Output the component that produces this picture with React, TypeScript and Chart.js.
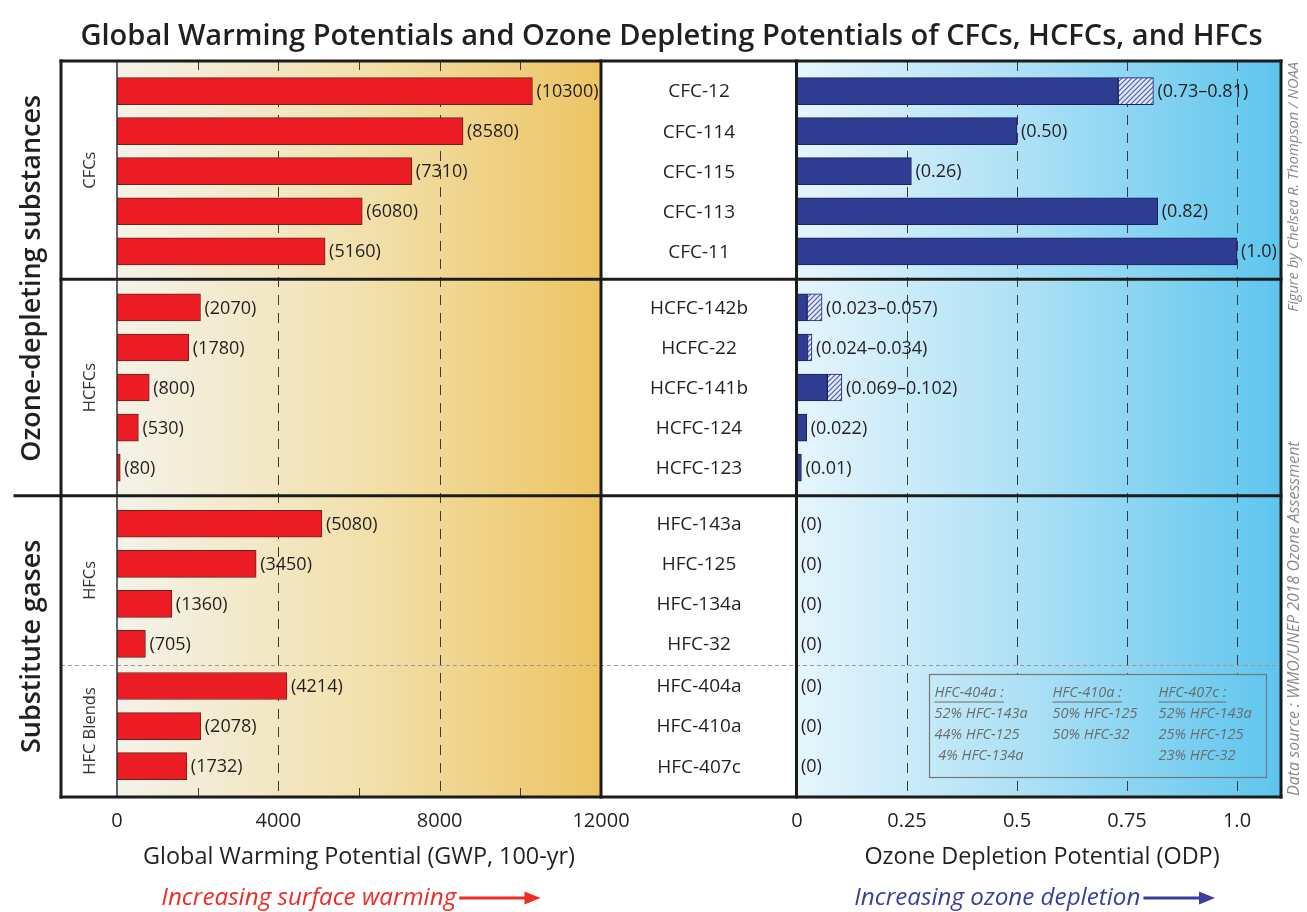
import React, { useEffect, useRef } from 'react';
import { Chart, registerables } from 'chart.js';

Chart.register(...registerables);

const FONT = '"Open Sans", "Noto Sans", "DejaVu Sans", sans-serif';

// ---------- data ----------
const titleText = 'Global Warming Potentials and Ozone Depleting Potentials of CFCs, HCFCs, and HFCs';
const sections = ['Ozone-depleting substances', 'Substitute gases'];
const groups = ['CFCs', 'HCFCs', 'HFCs', 'HFC Blends'];
const groupSection = [0, 0, 1, 1];
const groupBreak = ['solid', 'solid', 'dashed']; // break between group g and g+1
const compounds = [
  'CFC-12', 'CFC-114', 'CFC-115', 'CFC-113', 'CFC-11',
  'HCFC-142b', 'HCFC-22', 'HCFC-141b', 'HCFC-124', 'HCFC-123',
  'HFC-143a', 'HFC-125', 'HFC-134a', 'HFC-32',
  'HFC-404a', 'HFC-410a', 'HFC-407c',
];
const compoundGroup = [0, 0, 0, 0, 0, 1, 1, 1, 1, 1, 2, 2, 2, 2, 3, 3, 3];
const gwpValues = [10300, 8580, 7310, 6080, 5160, 2070, 1780, 800, 530, 80, 5080, 3450, 1360, 705, 4214, 2078, 1732];
const odpValues = [0.73, 0.5, 0.26, 0.82, 1.0, 0.023, 0.024, 0.069, 0.022, 0.01, 0, 0, 0, 0, 0, 0, 0];
const odpUpper: (number | null)[] = [0.81, null, null, null, null, 0.057, 0.034, 0.102, null, null, null, null, null, null, null, null, null];
const odpLabels = ['0.73–0.81', '0.50', '0.26', '0.82', '1.0', '0.023–0.057', '0.024–0.034', '0.069–0.102', '0.022', '0.01', '0', '0', '0', '0', '0', '0', '0'];
const gwpTicks = [0, 4000, 8000, 12000];
const gwpMinorTicks = [2000, 6000, 10000];
const odpTicks = [0, 0.25, 0.5, 0.75, 1.0];
const odpTickLabels = ['0', '0.25', '0.5', '0.75', '1.0'];
const gwpAxisTitle = 'Global Warming Potential (GWP, 100-yr)';
const odpAxisTitle = 'Ozone Depletion Potential (ODP)';
const gwpArrowText = 'Increasing surface warming';
const odpArrowText = 'Increasing ozone depletion';
const creditTop = 'Figure by Chelsea R. Thompson / NOAA';
const creditBottom = 'Data source : WMO/UNEP 2018 Ozone Assessment';
const blendNames = ['HFC-404a :', 'HFC-410a :', 'HFC-407c :'];
const blendParts = [
  ['52% HFC-143a', '44% HFC-125', ' 4% HFC-134a'],
  ['50% HFC-125', '50% HFC-32'],
  ['52% HFC-143a', '25% HFC-125', '23% HFC-32'],
];

// ---------- style ----------
const C = {
  text: '#231f20',
  red: '#ec1c24',
  redEdge: '#6a231e',
  blue: '#2e3d92',
  blueEdge: '#1b2161',
  frame: '#1c1c1c',
  grid: '#3a3a3a',
  legend: '#6c6c6c',
  credit: '#8a8a8a',
  redText: '#ee2b24',
  blueText: '#3a3f9c',
};
const gwpGradient = ['#f4f2e9', '#f2e1ae', '#edc462'];
const odpGradient = ['#e6f5fc', '#a9dff5', '#5ec5ee'];

// ---------- row layout (category positions with group gaps) ----------
const TOP_PAD = 0.75;
const BOTTOM_PAD = 0.77;
const SOLID_GAP = 1.4;
const DASHED_GAP = 1.05;
const rowPos: number[] = [];
{
  let p = TOP_PAD;
  compounds.forEach((_, i) => {
    if (i > 0) {
      const g0 = compoundGroup[i - 1];
      const g1 = compoundGroup[i];
      if (g0 === g1) p += 1;
      else p += groupBreak[g0] === 'solid' ? SOLID_GAP : DASHED_GAP;
    }
    rowPos.push(p);
  });
}
const Y_MAX = rowPos[rowPos.length - 1] + BOTTOM_PAD;
const breakPos = groups.slice(0, -1).map((_, g) => {
  const last = compoundGroup.lastIndexOf(g);
  const first = compoundGroup.indexOf(g + 1);
  return (rowPos[last] + rowPos[first]) / 2;
});
const groupTop = (g: number) => (g === 0 ? 0 : breakPos[g - 1]);
const groupBottom = (g: number) => (g === groups.length - 1 ? Y_MAX : breakPos[g]);

const LABEL_COL_LEFT = 61;
const SECTION_LINE_LEFT = 15;

function fitFont(ctx: CanvasRenderingContext2D, text: string, style: string, weight: string, target: number) {
  ctx.font = `${style} ${weight} 100px ${FONT}`;
  const w = ctx.measureText(text).width;
  return (100 * target) / w;
}

function vText(ctx: CanvasRenderingContext2D, text: string, x: number, y: number, align: CanvasTextAlign = 'center') {
  ctx.save();
  ctx.translate(x, y);
  ctx.rotate(-Math.PI / 2);
  ctx.textAlign = align;
  ctx.textBaseline = 'middle';
  ctx.fillText(text, 0, 0);
  ctx.restore();
}

function hLine(ctx: CanvasRenderingContext2D, x0: number, x1: number, y: number) {
  ctx.beginPath();
  ctx.moveTo(x0, y);
  ctx.lineTo(x1, y);
  ctx.stroke();
}
function vLine(ctx: CanvasRenderingContext2D, x: number, y0: number, y1: number) {
  ctx.beginPath();
  ctx.moveTo(x, y0);
  ctx.lineTo(x, y1);
  ctx.stroke();
}

function arrow(ctx: CanvasRenderingContext2D, x0: number, x1: number, y: number, color: string) {
  ctx.save();
  ctx.strokeStyle = color;
  ctx.fillStyle = color;
  ctx.lineWidth = 3;
  ctx.beginPath();
  ctx.moveTo(x0, y);
  ctx.lineTo(x1 - 10, y);
  ctx.stroke();
  ctx.beginPath();
  ctx.moveTo(x1, y);
  ctx.lineTo(x1 - 16, y - 6.5);
  ctx.lineTo(x1 - 16, y + 6.5);
  ctx.closePath();
  ctx.fill();
  ctx.restore();
}

function panelGradient(ctx: CanvasRenderingContext2D, sc: any, stops: string[]) {
  const g = ctx.createLinearGradient(sc.left, 0, sc.right, 0);
  stops.forEach((c, i) => g.addColorStop(i / (stops.length - 1), c));
  return g;
}

const decorPlugin = {
  id: 'decor',
  beforeDraw(chart: any) {
    const { ctx, chartArea: a, scales } = chart;
    const xg = scales.xg;
    const xo = scales.xo;
    ctx.save();
    ctx.fillStyle = '#ffffff';
    ctx.fillRect(0, 0, chart.width, chart.height);
    ctx.fillStyle = panelGradient(ctx, xg, gwpGradient);
    ctx.fillRect(xg.left, a.top, xg.right - xg.left, a.bottom - a.top);
    ctx.fillStyle = panelGradient(ctx, xo, odpGradient);
    ctx.fillRect(xo.left, a.top, xo.right - xo.left, a.bottom - a.top);

    ctx.strokeStyle = C.grid;
    ctx.lineWidth = 1;
    ctx.setLineDash([10, 8]);
    const dashed = (sc: any, ticks: number[]) => {
      ticks.forEach((v) => {
        const px = Math.round(sc.getPixelForValue(v)) + 0.5;
        if (px <= sc.left + 4 || px >= sc.right - 4) return;
        vLine(ctx, px, a.top, a.bottom);
      });
    };
    dashed(xg, gwpTicks);
    dashed(xo, odpTicks);
    ctx.setLineDash([]);
    gwpMinorTicks.forEach((v) => {
      const px = Math.round(xg.getPixelForValue(v)) + 0.5;
      vLine(ctx, px, a.top, a.top + 9);
      vLine(ctx, px, a.bottom - 9, a.bottom);
    });
    ctx.restore();
  },
  afterDatasetsDraw(chart: any) {
    const { ctx, chartArea: a, scales } = chart;
    const xg = scales.xg;
    const xn = scales.xn;
    const xo = scales.xo;
    const y = scales.y;
    ctx.save();

    // dashed separator between HFCs and blends
    breakPos.forEach((bp, g) => {
      if (groupBreak[g] !== 'dashed') return;
      ctx.strokeStyle = '#9a9a9a';
      ctx.lineWidth = 1;
      ctx.setLineDash([4, 3]);
      hLine(ctx, LABEL_COL_LEFT, xo.right, Math.round(y.getPixelForValue(bp)) + 0.5);
      ctx.setLineDash([]);
    });

    // thin GWP zero line
    ctx.strokeStyle = '#333';
    ctx.lineWidth = 1.5;
    vLine(ctx, xg.left, a.top, a.bottom);

    // thick frame
    ctx.strokeStyle = C.frame;
    ctx.lineWidth = 3;
    ctx.lineCap = 'square';
    hLine(ctx, LABEL_COL_LEFT, xo.right, a.top);
    hLine(ctx, LABEL_COL_LEFT, xo.right, a.bottom);
    vLine(ctx, LABEL_COL_LEFT, a.top, a.bottom);
    vLine(ctx, xg.right, a.top, a.bottom);
    vLine(ctx, xo.left - 0.5, a.top, a.bottom);
    vLine(ctx, xo.right, a.top, a.bottom);
    breakPos.forEach((bp, g) => {
      if (groupBreak[g] !== 'solid') return;
      const left = groupSection[g] !== groupSection[g + 1] ? SECTION_LINE_LEFT : LABEL_COL_LEFT;
      hLine(ctx, left, xo.right, y.getPixelForValue(bp));
    });
    ctx.lineCap = 'butt';

    // group labels in left column
    ctx.fillStyle = '#333';
    ctx.font = `400 16.5px ${FONT}`;
    groups.forEach((name, g) => {
      const cy = (y.getPixelForValue(groupTop(g)) + y.getPixelForValue(groupBottom(g))) / 2;
      vText(ctx, name, (LABEL_COL_LEFT + xg.left) / 2 + 1, cy);
    });

    // section labels
    ctx.fillStyle = C.text;
    const secSize = fitFont(ctx, sections[0], 'normal', '600', 367);
    ctx.font = `600 ${secSize}px ${FONT}`;
    sections.forEach((name, s) => {
      const gs = groups.map((_, g) => g).filter((g) => groupSection[g] === s);
      const top = y.getPixelForValue(groupTop(gs[0]));
      const bot = y.getPixelForValue(groupBottom(gs[gs.length - 1]));
      vText(ctx, name, 32, (top + bot) / 2);
    });

    // compound names
    ctx.fillStyle = C.text;
    ctx.font = `400 19px ${FONT}`;
    ctx.textAlign = 'center';
    ctx.textBaseline = 'middle';
    const nameX = (xn.left + xn.right) / 2;
    compounds.forEach((n, i) => ctx.fillText(n, nameX, y.getPixelForValue(rowPos[i]) + 1));

    // value labels
    ctx.font = `400 18px ${FONT}`;
    ctx.textAlign = 'left';
    gwpValues.forEach((v, i) => {
      ctx.fillText(`(${v})`, xg.getPixelForValue(v) + 4, y.getPixelForValue(rowPos[i]) + 1);
    });
    odpValues.forEach((v, i) => {
      const end = odpUpper[i] ?? v;
      ctx.fillText(`(${odpLabels[i]})`, xo.getPixelForValue(end) + 4, y.getPixelForValue(rowPos[i]) + 1);
    });

    // blend legend box (clears the grid lines inside it)
    const dashedIdx = groupBreak.indexOf('dashed');
    const boxTop = Math.round(y.getPixelForValue(breakPos[dashedIdx])) + 9.5;
    const boxBottom = Math.round(a.bottom) - 19.5;
    const boxLeft = Math.round(xo.getPixelForValue(0.3)) + 0.5;
    const boxRight = Math.round(xo.getPixelForValue(1.066)) + 0.5;
    ctx.fillStyle = panelGradient(ctx, xo, odpGradient);
    ctx.fillRect(boxLeft, boxTop, boxRight - boxLeft, boxBottom - boxTop);
    ctx.strokeStyle = '#777';
    ctx.lineWidth = 1.2;
    ctx.strokeRect(boxLeft, boxTop, boxRight - boxLeft, boxBottom - boxTop);
    ctx.fillStyle = C.legend;
    ctx.strokeStyle = C.legend;
    ctx.lineWidth = 1;
    ctx.font = `italic 400 14.5px ${FONT}`;
    ctx.textAlign = 'left';
    const colOff = [5, 123, 229];
    blendNames.forEach((bn, c) => {
      const x = boxLeft + colOff[c];
      const y0 = boxTop + 18;
      ctx.fillText(bn, x, y0);
      const w = ctx.measureText(bn).width;
      hLine(ctx, x, x + w, y0 + 9.5);
      blendParts[c].forEach((t, r) => ctx.fillText(t, x, y0 + 21 * (r + 1)));
    });

    // main title
    ctx.fillStyle = C.text;
    ctx.textAlign = 'center';
    const tSize = fitFont(ctx, titleText, 'normal', '600', 1183);
    ctx.font = `600 ${tSize}px ${FONT}`;
    ctx.fillText(titleText, 671.5, 37);

    // axis titles
    const atSize = fitFont(ctx, gwpAxisTitle, 'normal', '400', 432);
    ctx.font = `400 ${atSize}px ${FONT}`;
    ctx.fillText(gwpAxisTitle, (xg.left + xg.right) / 2, 857);
    ctx.fillText(odpAxisTitle, (xo.left + xo.right) / 2 + 3, 857);

    // arrow captions
    const arSize = fitFont(ctx, gwpArrowText, 'italic', '400', 295);
    ctx.font = `italic 400 ${arSize}px ${FONT}`;
    ctx.textAlign = 'left';
    ctx.fillStyle = C.redText;
    const rx = xg.getPixelForValue(1100);
    ctx.fillText(gwpArrowText, rx, 898);
    const rw = ctx.measureText(gwpArrowText).width;
    arrow(ctx, rx + rw + 3, xg.getPixelForValue(10500), 898, C.redText);
    ctx.fillStyle = C.blueText;
    const bx = xo.getPixelForValue(0.13);
    ctx.fillText(odpArrowText, bx, 898);
    const bw = ctx.measureText(odpArrowText).width;
    arrow(ctx, bx + bw + 3, xo.getPixelForValue(0.95), 898, C.blueText);

    // credits
    ctx.fillStyle = C.credit;
    const c1 = fitFont(ctx, creditTop, 'italic', '400', 250);
    ctx.font = `italic 400 ${c1}px ${FONT}`;
    vText(ctx, creditTop, 1294, a.top + 1, 'right');
    const c2 = fitFont(ctx, creditBottom, 'italic', '400', 355);
    ctx.font = `italic 400 ${c2}px ${FONT}`;
    vText(ctx, creditBottom, 1294, a.bottom - 1, 'left');

    ctx.restore();
  },
};

function makeHatch(ctx: CanvasRenderingContext2D) {
  const c = document.createElement('canvas');
  c.width = 5;
  c.height = 5;
  const h = c.getContext('2d')!;
  h.fillStyle = '#e3e8f6';
  h.fillRect(0, 0, 5, 5);
  h.strokeStyle = '#4d5fb3';
  h.lineWidth = 1.2;
  h.beginPath();
  h.moveTo(-1, 6);
  h.lineTo(6, -1);
  h.moveTo(-3.5, 3.5);
  h.lineTo(3.5, -3.5);
  h.moveTo(1.5, 8.5);
  h.lineTo(8.5, 1.5);
  h.stroke();
  return ctx.createPattern(c, 'repeat');
}

const fixAxis = (s: any) => {
  s.height = 115;
  s.paddingLeft = 0;
  s.paddingRight = 0;
};

export default function App() {
  const ref = useRef<HTMLCanvasElement>(null);

  useEffect(() => {
    const canvas = ref.current;
    if (!canvas) return;
    const ctx = canvas.getContext('2d')!;
    const hatch = makeHatch(ctx);
    const tickFont = { family: FONT, size: 20 };

    const chart = new Chart(canvas, {
      type: 'bar',
      data: {
        datasets: [
          {
            label: 'GWP',
            xAxisID: 'xg',
            yAxisID: 'y',
            data: gwpValues.map((v, i) => ({ x: v, y: rowPos[i] })),
            backgroundColor: C.red,
            borderColor: C.redEdge,
            borderWidth: 1,
            borderSkipped: false,
            barThickness: 27,
            grouped: false,
          } as any,
          {
            label: 'ODP',
            xAxisID: 'xo',
            yAxisID: 'y',
            data: odpValues.map((v, i) => ({ x: v, y: rowPos[i] })),
            backgroundColor: C.blue,
            borderColor: C.blueEdge,
            borderWidth: (c: any) => (c.raw && c.raw.x === 0 ? 0 : 1),
            borderSkipped: false,
            barThickness: 27,
            grouped: false,
          } as any,
          {
            label: 'ODP range',
            xAxisID: 'xo',
            yAxisID: 'y',
            data: odpUpper
              .map((u, i) => (u == null ? null : { x: [odpValues[i], u], y: rowPos[i] }))
              .filter((d) => d !== null),
            backgroundColor: hatch,
            borderColor: C.blueEdge,
            borderWidth: 1,
            borderSkipped: false,
            barThickness: 27,
            grouped: false,
          } as any,
        ],
      },
      options: {
        indexAxis: 'y',
        animation: false,
        responsive: false,
        devicePixelRatio: 1,
        events: [],
        layout: { padding: { left: 117, right: 26, top: 61, bottom: 0 } },
        plugins: {
          legend: { display: false },
          tooltip: { enabled: false },
          title: { display: false },
        },
        scales: {
          xg: {
            type: 'linear',
            position: 'bottom',
            stack: 'panels',
            stackWeight: 484,
            weight: 1,
            min: 0,
            max: 12000,
            offset: false,
            grid: { display: false },
            border: { display: false },
            ticks: {
              autoSkip: false,
              maxRotation: 0,
              padding: 4,
              font: tickFont,
              color: C.text,
              callback: (v: any) => String(v),
            },
            afterBuildTicks: (s: any) => {
              s.ticks = gwpTicks.map((v) => ({ value: v }));
            },
            afterFit: fixAxis,
          },
          xn: {
            type: 'linear',
            position: 'bottom',
            stack: 'panels',
            stackWeight: 196,
            weight: 2,
            min: 0,
            max: 1,
            offset: false,
            grid: { display: false },
            border: { display: false },
            ticks: { display: false },
            afterFit: fixAxis,
          },
          xo: {
            type: 'linear',
            position: 'bottom',
            stack: 'panels',
            stackWeight: 484,
            weight: 3,
            min: 0,
            max: 1.1,
            offset: false,
            grid: { display: false },
            border: { display: false },
            ticks: {
              autoSkip: false,
              maxRotation: 0,
              padding: 4,
              font: tickFont,
              color: C.text,
              callback: (_v: any, i: number) => odpTickLabels[i],
            },
            afterBuildTicks: (s: any) => {
              s.ticks = odpTicks.map((v) => ({ value: v }));
            },
            afterFit: fixAxis,
          },
          y: {
            type: 'linear',
            position: 'left',
            display: false,
            reverse: true,
            min: 0,
            max: Y_MAX,
            offset: false,
          },
        },
      } as any,
      plugins: [decorPlugin],
    });
    return () => chart.destroy();
  }, []);

  return (
    <div style={{ position: 'absolute', left: 0, top: 0, width: 1307, height: 912, background: '#fff' }}>
      <canvas ref={ref} width={1307} height={912} style={{ display: 'block', width: 1307, height: 912 }} />
    </div>
  );
}
